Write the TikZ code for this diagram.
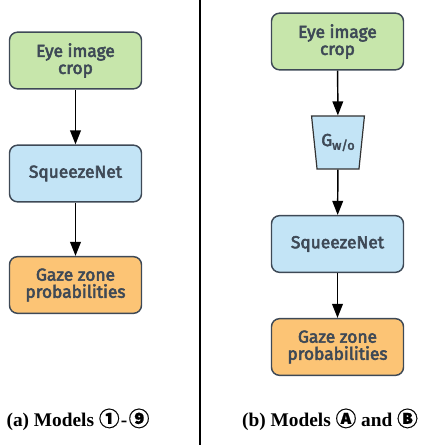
\documentclass[tikz,border=0pt]{standalone}
\usepackage{fontspec}
\setmainfont{Liberation Serif}
\newfontfamily\boxfont[FakeBold=3.2]{Fira Sans}
\newfontfamily\circfont[FakeBold=0.5]{Noto Sans CJK SC}
\usetikzlibrary{shapes.geometric,arrows.meta}

\definecolor{cropgreen}{HTML}{C7E6AB}
\definecolor{netblue}{HTML}{C3E4F6}
\definecolor{zoneorange}{HTML}{FCC475}
\definecolor{boxedge}{HTML}{3E4956}
\definecolor{boxtext}{HTML}{3E4956}

\begin{document}
\begin{tikzpicture}[x=0.75pt,y=-0.75pt,
box/.style={draw=boxedge,line width=1.1pt,rounded corners=6pt,minimum width=99pt,minimum height=42.5pt,
  align=center,text=boxtext,font=\boxfont\fontsize{13}{12.8}\selectfont},
greenbox/.style={box,fill=cropgreen},
bluebox/.style={box,fill=netblue},
orangebox/.style={box,fill=zoneorange},
gbox/.style={trapezium,shape border rotate=180,trapezium angle=75.7,trapezium stretches=true,
  minimum width=39.75pt,minimum height=39.75pt,inner sep=0pt,draw=black!80,line width=0.9pt,
  fill=netblue,text=boxtext,font=\boxfont\fontsize{13}{14}\selectfont},
flow/.style={-{Triangle[length=10.5pt,width=8pt]},line width=1.1pt},
caption/.style={font=\bfseries\fontsize{14.5}{15}\selectfont}]

\useasboundingbox (0,0) rectangle (427,445);

% left: models 1-9
\node[greenbox] (cropA) at (75.5,60.5) {Eye image\\crop};
\node[bluebox] (netA) at (75.5,173.5) {SqueezeNet};
\node[orangebox] (zoneA) at (75.5,285) {Gaze zone\\probabilities};
\draw[flow] (cropA) -- (netA);
\draw[flow] (netA) -- (zoneA);

% divider
\draw[line width=1.1pt] (200,0) -- (200,445);

% right: models A and B
\node[gbox] (gwo) at (338,142.5) {G\raisebox{-0.4ex}{\fontsize{9.5}{10}\selectfont w/o}};
\node[greenbox] (cropB) at (337.5,41.5) {Eye image\\crop};
\node[bluebox] (netB) at (337.5,244) {SqueezeNet};
\node[orangebox] (zoneB) at (337.5,347) {Gaze zone\\probabilities};
\draw[flow] (cropB) -- (gwo);
\draw[flow] (gwo) -- (netB);
\draw[flow] (netB) -- (zoneB);

\node[caption] (capA) at (78,419.5) {(a) Models {\circfont\fontsize{15.5}{15}\selectfont ①}\kern1pt-\kern1pt{\circfont\fontsize{15.5}{15}\selectfont ⑨}};
\node[caption] (capB) at (330,419.5) {(b) Models {\circfont\fontsize{15.5}{15}\selectfont Ⓐ} and {\circfont\fontsize{15.5}{15}\selectfont Ⓑ}};
\end{tikzpicture}
\end{document}
